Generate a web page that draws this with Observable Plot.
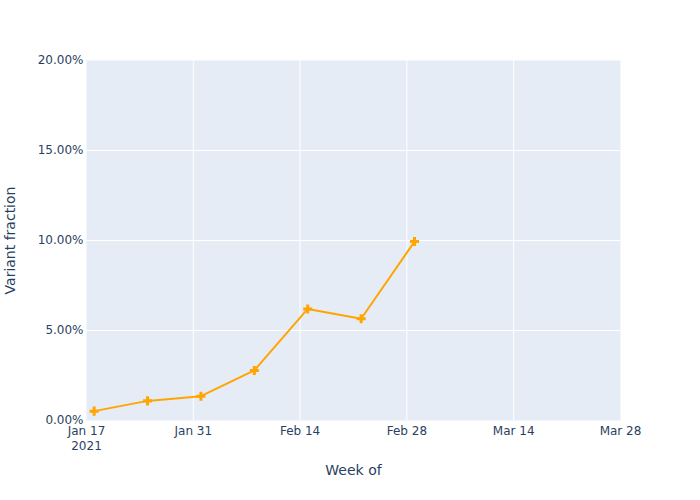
<!DOCTYPE html>
<html>
<head>
<meta charset="utf-8">
<script src="https://cdn.jsdelivr.net/npm/d3@7"></script>
<script src="https://cdn.jsdelivr.net/npm/@observablehq/plot@0.6"></script>
<style>
  body { margin: 0; background: #fff; }
  #chart svg { font-family: "DejaVu Sans", Verdana, sans-serif; }
</style>
</head>
<body>
<div id="chart"></div>
<script>
const weeks = ["2021-01-18", "2021-01-25", "2021-02-01", "2021-02-08", "2021-02-15", "2021-02-22", "2021-03-01"];
const fractions = [0.0052, 0.0109, 0.0135, 0.0278, 0.0620, 0.0565, 0.0994];
const xTicks = ["2021-01-17", "2021-01-31", "2021-02-14", "2021-02-28", "2021-03-14", "2021-03-28"];
const yTicks = [0, 0.05, 0.10, 0.15, 0.20];

const data = weeks.map((w, i) => ({ date: new Date(w + "T00:00:00Z"), value: fractions[i] }));
const xt = xTicks.map(d => new Date(d + "T00:00:00Z"));
const fmt = d3.utcFormat("%b %-d");
const textColor = "#2a3f5f";

const chart = Plot.plot({
  width: 700,
  height: 500,
  marginLeft: 86,
  marginRight: 80,
  marginTop: 60,
  marginBottom: 80,
  style: { fontFamily: "DejaVu Sans, Verdana, sans-serif", fontSize: "12px", color: textColor, background: "#fff" },
  x: { type: "utc", domain: [xt[0], xt[xt.length - 1]] },
  y: { domain: [0, 0.20] },
  marks: [
    Plot.frame({ fill: "#E5ECF6", stroke: null }),
    Plot.gridX(xt.slice(1, -1), { stroke: "white", strokeOpacity: 1, strokeWidth: 1 }),
    Plot.gridY(yTicks.slice(1, -1), { stroke: "white", strokeOpacity: 1, strokeWidth: 1 }),
    Plot.axisX(xt, {
      tickSize: 0, tickPadding: 4,
      tickFormat: (d, i) => i === 0 ? fmt(d) + "\n" + d.getUTCFullYear() : fmt(d),
      fill: textColor, fontSize: 12, lineHeight: 1.25,
      label: null
    }),
    Plot.axisY(yTicks, {
      tickSize: 0, tickPadding: 3,
      tickFormat: d => (d * 100).toFixed(2) + "%",
      fill: textColor, fontSize: 12,
      label: null
    }),
    Plot.text(["Week of"], { frameAnchor: "bottom", dy: 54, fill: textColor, fontSize: 14 }),
    Plot.text(["Variant fraction"], { frameAnchor: "left", dx: -76, rotate: -90, textAnchor: "middle", fill: textColor, fontSize: 14 }),
    Plot.line(data, { x: "date", y: "value", stroke: "#FFA500", strokeWidth: 2 }),
    Plot.dot(data, { x: "date", y: "value", symbol: "cross", fill: "#FFA500", stroke: "none", r: 3.8 })
  ]
});
document.getElementById("chart").appendChild(chart);
</script>
</body>
</html>
